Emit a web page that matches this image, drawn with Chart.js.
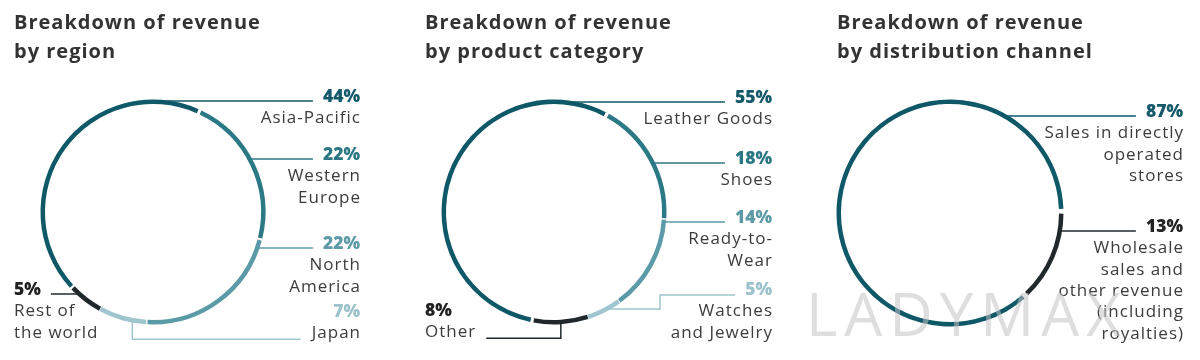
<!DOCTYPE html>
<html>
<head>
<meta charset="utf-8">
<script src="https://cdn.jsdelivr.net/npm/chart.js@4/dist/chart.umd.min.js"></script>
<style>
  html, body { margin: 0; padding: 0; background: #fff; }
  #wrap { position: relative; width: 1200px; height: 360px; overflow: hidden; }
  canvas { position: absolute; top: 0; }
  .title {
    position: absolute; top: 7px;
    font-family: 'Open Sans', sans-serif; font-weight: 700;
    font-size: 20px; line-height: 29px; letter-spacing: 1px; color: #333;
  }
  #mark {
    position: absolute; left: 806px; top: 273px;
    font-family: 'Open Sans', sans-serif; font-weight: 400;
    font-size: 60px; line-height: 80px; letter-spacing: 7px;
    color: rgba(195, 195, 195, 0.55);
  }
</style>
</head>
<body>
<div id="wrap">
  <canvas id="c1" width="400" height="360" style="left:0"></canvas>
  <canvas id="c2" width="400" height="360" style="left:400px"></canvas>
  <canvas id="c3" width="400" height="360" style="left:800px"></canvas>
  <div class="title" style="left:14px">Breakdown of revenue<br>by region</div>
  <div class="title" style="left:425px">Breakdown of revenue<br>by product category</div>
  <div class="title" style="left:837px">Breakdown of revenue<br>by distribution channel</div>
  <div id="mark">LADYMAX</div>
</div>
<script>
// data
const regionLabels = ['Asia-Pacific', 'Western Europe', 'North America', 'Japan', 'Rest of the world'];
const regionValues = [44, 22, 22, 7, 5];
const regionLines = [['Asia-Pacific'], ['Western', 'Europe'], ['North', 'America'], ['Japan'], ['Rest of', 'the world']];

const categoryLabels = ['Leather Goods', 'Shoes', 'Ready-to-Wear', 'Watches and Jewelry', 'Other'];
const categoryValues = [55, 18, 14, 5, 8];
const categoryLines = [['Leather Goods'], ['Shoes'], ['Ready-to-', 'Wear'], ['Watches', 'and Jewelry'], ['Other']];

const channelLabels = ['Sales in directly operated stores', 'Wholesale sales and other revenue (including royalties)'];
const channelValues = [87, 13];
const channelLines = [['Sales in directly', 'operated', 'stores'], ['Wholesale', 'sales and', 'other revenue', '(including', 'royalties)']];

// colours
const DARK = '#0f5868', MID = '#2c7986', LIGHT = '#5b9ba7', PALE = '#9fc5ce', BLACK = '#20282c';
const PCT_COLORS = { [DARK]: '#14596a', [MID]: '#2b7784', [LIGHT]: '#5b9aa6', [PALE]: '#9cc3cc', [BLACK]: '#222' };

const LINE_GAP = 21.3;
const PCT_FONT = "800 17.5px 'Open Sans', sans-serif";
const TXT_FONT = "400 17px 'Open Sans', sans-serif";

// leader lines + labels, anchored on the arc elements
const leaderPlugin = {
  id: 'leaders',
  afterDraw(chart, args, opts) {
    const ctx = chart.ctx;
    const arcs = chart.getDatasetMeta(0).data;
    const ds = chart.data.datasets[0];
    ctx.save();
    opts.items.forEach((item, i) => {
      const arc = arcs[i];
      const cx = arc.x, cy = arc.y;
      const rm = (arc.innerRadius + arc.outerRadius) / 2;
      const color = ds.backgroundColor[i];
      const lines = opts.lines[i];
      const right = item.side === 'right';
      const tx = right ? opts.rightX : opts.leftX;
      const pct = ds.data[i] + '%';

      ctx.letterSpacing = '0px';
      ctx.font = PCT_FONT;
      const pctW = ctx.measureText(pct).width;
      ctx.letterSpacing = '1px';
      ctx.font = TXT_FONT;
      const lastY = item.y + LINE_GAP * lines.length;
      const lastW = ctx.measureText(lines[lines.length - 1]).width;

      // leader
      ctx.strokeStyle = color;
      ctx.lineWidth = 1.5;
      ctx.beginPath();
      if (item.type === 'h') {
        const y = item.y - 1;
        const dy = Math.min(Math.abs(y - cy), rm);
        const dx = Math.sqrt(rm * rm - dy * dy);
        const x0 = right ? cx + dx : cx - dx;
        const x1 = right ? tx - pctW - 10 : tx + pctW + 10;
        ctx.moveTo(x0, y);
        ctx.lineTo(x1, y);
      } else {
        const a = arc.startAngle + (arc.endAngle - arc.startAngle) * item.frac;
        const px = cx + Math.cos(a) * rm, py = cy + Math.sin(a) * rm;
        ctx.moveTo(px, py);
        if (item.type === 'down') {
          const x1 = right ? tx - lastW - 10 : tx + lastW + 10;
          ctx.lineTo(px, lastY + 1);
          ctx.lineTo(x1, lastY + 1);
        } else {
          ctx.lineTo(item.elbowX, py);
          ctx.lineTo(item.elbowX, item.y);
          ctx.lineTo(tx - pctW - 10, item.y);
        }
      }
      ctx.stroke();

      // texts
      ctx.textAlign = right ? 'right' : 'left';
      ctx.textBaseline = 'alphabetic';
      ctx.letterSpacing = '0px';
      ctx.font = PCT_FONT;
      ctx.fillStyle = PCT_COLORS[color] || color;
      ctx.fillText(pct, tx, item.y);
      ctx.letterSpacing = '1px';
      ctx.font = TXT_FONT;
      ctx.fillStyle = '#3c3c3c';
      lines.forEach((t, k) => ctx.fillText(t, right ? tx + 1 : tx, item.y + LINE_GAP * (k + 1)));
    });
    ctx.restore();
  }
};

function ringChart(id, labels, values, colors, rotation, ring, leaders) {
  const spacing = 3;
  const size = ring.r * 2 + spacing;
  const left = ring.cx - size / 2, top = ring.cy - size / 2;
  return new Chart(document.getElementById(id), {
    type: 'doughnut',
    data: {
      labels: labels,
      datasets: [{ data: values, backgroundColor: colors, borderWidth: 0 }]
    },
    options: {
      responsive: false,
      animation: false,
      events: [],
      rotation: rotation,
      cutout: ring.r - 4.5,
      spacing: spacing,
      layout: { padding: { left: left, top: top, right: 400 - left - size, bottom: 360 - top - size } },
      plugins: { legend: { display: false }, tooltip: { enabled: false }, leaders: leaders }
    },
    plugins: [leaderPlugin]
  });
}

ringChart('c1', regionLabels, regionValues, [DARK, MID, LIGHT, PALE, BLACK], -133.4,
  { cx: 153, cy: 212, r: 111 },
  { rightX: 360, leftX: 14, lines: regionLines, items: [
    { side: 'right', y: 102, type: 'h' },
    { side: 'right', y: 160, type: 'h' },
    { side: 'right', y: 249, type: 'h' },
    { side: 'right', y: 317, type: 'down', frac: 0.3 },
    { side: 'left', y: 295, type: 'h' }
  ] });

ringChart('c2', categoryLabels, categoryValues, [DARK, MID, LIGHT, PALE, BLACK], -169.2,
  { cx: 154, cy: 212, r: 111 },
  { rightX: 372, leftX: 25, lines: categoryLines, items: [
    { side: 'right', y: 103, type: 'h' },
    { side: 'right', y: 164, type: 'h' },
    { side: 'right', y: 223, type: 'h' },
    { side: 'right', y: 295, type: 'elbow', frac: 0.5, elbowX: 260 },
    { side: 'left', y: 316, type: 'down', frac: 0.5 }
  ] });

ringChart('c3', channelLabels, channelValues, [DARK, BLACK], 136.8,
  { cx: 150, cy: 213, r: 112 },
  { rightX: 383, leftX: 0, lines: channelLines, items: [
    { side: 'right', y: 117, type: 'h' },
    { side: 'right', y: 232, type: 'h' }
  ] });
</script>
</body>
</html>
